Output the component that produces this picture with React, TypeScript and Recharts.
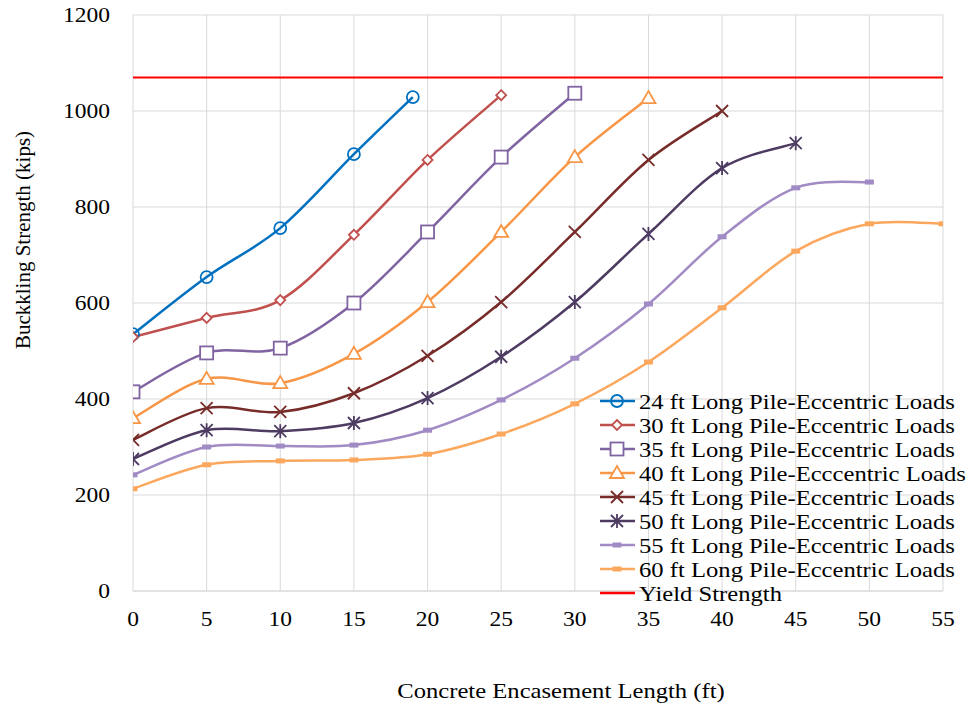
import React from 'react';
import { LineChart, Line, XAxis, YAxis, CartesianGrid } from 'recharts';

// ---------- DATA ----------
const xTicks = [0, 5, 10, 15, 20, 25, 30, 35, 40, 45, 50, 55];
const yTicks = [0, 200, 400, 600, 800, 1000, 1200];

const x24 = [0, 5, 10, 15, 19];
const y24 = [535, 654, 756, 910, 1029];
const x30 = [0, 5, 10, 15, 20, 25];
const y30 = [529, 569, 606, 742, 898, 1033];
const x35 = [0, 5, 10, 15, 20, 25, 30];
const y35 = [415, 496, 506, 600, 748, 904, 1037];
const x40 = [0, 5, 10, 15, 20, 25, 30, 35];
const y40 = [360, 442, 433, 494, 602, 748, 904, 1027];
const x45 = [0, 5, 10, 15, 20, 25, 30, 35, 40];
const y45 = [315, 381, 373, 412, 490, 602, 748, 898, 1000];
const x50 = [0, 5, 10, 15, 20, 25, 30, 35, 40, 45];
const y50 = [275, 335, 333, 350, 402, 488, 602, 744, 881, 933];
const x55 = [0, 5, 10, 15, 20, 25, 30, 35, 40, 45, 50];
const y55 = [242, 300, 302, 304, 335, 398, 485, 598, 738, 840, 852];
const x60 = [0, 5, 10, 15, 20, 25, 30, 35, 40, 45, 50, 55];
const y60 = [213, 263, 271, 273, 285, 327, 390, 477, 590, 708, 765, 765];
const xYield = [0, 55];
const yYield = [1070, 1070];

const seriesNames = [
  '24 ft Long Pile-Eccentric Loads',
  '30 ft Long Pile-Eccentric Loads',
  '35 ft Long Pile-Eccentric Loads',
  '40 ft Long Pile-Ecccentric Loads',
  '45 ft Long Pile-Eccentric Loads',
  '50 ft Long Pile-Eccentric Loads',
  '55 ft Long Pile-Eccentric Loads',
  '60 ft Long Pile-Eccentric Loads',
  'Yield Strength',
];

const zip = (xs: number[], ys: number[]) => xs.map((x, i) => ({ x, y: ys[i] }));

type Kind = 'circle' | 'diamond' | 'square' | 'triangle' | 'x' | 'star' | 'dash' | 'none';

const series: { name: string; data: { x: number; y: number }[]; color: string; kind: Kind }[] = [
  { name: seriesNames[0], data: zip(x24, y24), color: '#0070C0', kind: 'circle' },
  { name: seriesNames[1], data: zip(x30, y30), color: '#C0504D', kind: 'diamond' },
  { name: seriesNames[2], data: zip(x35, y35), color: '#8064A2', kind: 'square' },
  { name: seriesNames[3], data: zip(x40, y40), color: '#F79646', kind: 'triangle' },
  { name: seriesNames[4], data: zip(x45, y45), color: '#772C2A', kind: 'x' },
  { name: seriesNames[5], data: zip(x50, y50), color: '#4D3B62', kind: 'star' },
  { name: seriesNames[6], data: zip(x55, y55), color: '#A18BC4', kind: 'dash' },
  { name: seriesNames[7], data: zip(x60, y60), color: '#FBA85E', kind: 'dash' },
  { name: seriesNames[8], data: zip(xYield, yYield), color: '#FF0000', kind: 'none' },
];

// ---------- Excel-like smoothing curve ----------
const excelCurve: any = (context: any) => {
  let pts: number[][] = [];
  return {
    areaStart() {},
    areaEnd() {},
    lineStart() { pts = []; },
    point(x: number, y: number) { pts.push([+x, +y]); },
    lineEnd() {
      const n = pts.length;
      if (!n) return;
      context.moveTo(pts[0][0], pts[0][1]);
      for (let i = 0; i < n - 1; i++) {
        const p0 = pts[i - 1] || pts[i];
        const p1 = pts[i];
        const p2 = pts[i + 1];
        const p3 = pts[i + 2] || pts[i + 1];
        const c1x = p1[0] + (p2[0] - p0[0]) / 6;
        const c1y = p1[1] + (p2[1] - p0[1]) / 6;
        const c2x = p2[0] - (p3[0] - p1[0]) / 6;
        const c2y = p2[1] - (p3[1] - p1[1]) / 6;
        context.bezierCurveTo(c1x, c1y, c2x, c2y, p2[0], p2[1]);
      }
    },
  };
};

const FONT = '"Liberation Serif", "Times New Roman", serif';
const SX = 1.12;

function Marker({ cx, cy, kind, color }: { cx: number; cy: number; kind: Kind; color: string }) {
  const sw = 1.8;
  switch (kind) {
    case 'circle':
      return <circle cx={cx} cy={cy} r={6} fill="none" stroke={color} strokeWidth={sw} />;
    case 'diamond':
      return (
        <polygon
          points={`${cx},${cy - 5} ${cx + 5},${cy} ${cx},${cy + 5} ${cx - 5},${cy}`}
          fill="#fff"
          stroke={color}
          strokeWidth={sw}
        />
      );
    case 'square':
      return <rect x={cx - 6.5} y={cy - 6.5} width={13} height={13} fill="#fff" stroke={color} strokeWidth={sw} />;
    case 'triangle':
      return (
        <polygon
          points={`${cx},${cy - 7} ${cx + 7},${cy + 5} ${cx - 7},${cy + 5}`}
          fill="#fff"
          stroke={color}
          strokeWidth={sw}
        />
      );
    case 'x':
      return (
        <path
          d={`M${cx - 6},${cy - 6}L${cx + 6},${cy + 6}M${cx - 6},${cy + 6}L${cx + 6},${cy - 6}`}
          stroke={color}
          strokeWidth={sw}
        />
      );
    case 'star':
      return (
        <path
          d={`M${cx - 6},${cy - 6}L${cx + 6},${cy + 6}M${cx - 6},${cy + 6}L${cx + 6},${cy - 6}M${cx},${cy - 7}L${cx},${cy + 7}`}
          stroke={color}
          strokeWidth={sw}
        />
      );
    case 'dash':
      return <rect x={cx - 4.5} y={cy - 2.5} width={9} height={5} fill={color} stroke="none" />;
    default:
      return null;
  }
}

const YTick = (props: any) => {
  const { x, y, payload } = props;
  return (
    <g transform={`translate(${x},${y}) scale(${SX},1)`}>
      <text x={0} y={0} dy="0.35em" textAnchor="end" fontFamily={FONT} fontSize={21} fill="#000">
        {payload.value}
      </text>
    </g>
  );
};

const XTick = (props: any) => {
  const { x, y, payload } = props;
  return (
    <g transform={`translate(${x},${y}) scale(${SX},1)`}>
      <text x={0} y={0} dy="0.71em" textAnchor="middle" fontFamily={FONT} fontSize={21} fill="#000">
        {payload.value}
      </text>
    </g>
  );
};

const LegendBox = () => (
  <svg width={372} height={222} style={{ display: 'block' }}>
    {series.map((s, i) => {
      const cy = 12 + i * 24;
      return (
        <g key={s.name}>
          <line x1={3} y1={cy} x2={38} y2={cy} stroke={s.color} strokeWidth={2.5} />
          <Marker cx={20} cy={cy} kind={s.kind} color={s.color} />
          <g transform={`translate(42,${cy}) scale(${SX},1)`}>
            <text x={0} y={0} dy="0.35em" fontFamily={FONT} fontSize={22} fill="#000">
              {s.name}
            </text>
          </g>
        </g>
      );
    })}
  </svg>
);

export default function App() {
  return (
    <div style={{ position: 'absolute', left: 0, top: 0, width: 969, height: 708, background: '#fff' }}>
      <LineChart width={969} height={708} margin={{ top: 15, right: 26, bottom: 0, left: 0 }}>
        <CartesianGrid stroke="#D9D9D9" strokeWidth={1} />
        <XAxis
          type="number"
          dataKey="x"
          domain={[0, 55]}
          ticks={xTicks}
          allowDataOverflow
          axisLine={{ stroke: '#D9D9D9' }}
          tickLine={false}
          tickSize={0}
          tickMargin={20}
          height={117}
          tick={<XTick />}
          interval={0}
          label={{
            content: () => (
              <g transform={`translate(561,690) scale(${SX},1)`}>
                <text x={0} y={0} textAnchor="middle" dy="0.35em" fontFamily={FONT} fontSize={22} fill="#000">
                  Concrete Encasement Length (ft)
                </text>
              </g>
            ),
          }}
        />
        <YAxis
          type="number"
          domain={[0, 1200]}
          ticks={yTicks}
          width={133}
          axisLine={false}
          tickLine={false}
          tickSize={0}
          tickMargin={23}
          tick={<YTick />}
          interval={0}
          label={{
            content: () => (
              <text
                x={0}
                y={0}
                transform="translate(23,240) rotate(-90)"
                textAnchor="middle"
                dy="0.35em"
                fontFamily={FONT}
                fontSize={21}
                fill="#000"
              >
                Buckkling Strength (kips)
              </text>
            ),
          }}
        />
        {series.map((s) => (
          <Line
            key={s.name}
            name={s.name}
            data={s.data}
            dataKey="y"
            type={excelCurve}
            stroke={s.color}
            strokeWidth={s.kind === 'none' ? 2 : 2.5}
            isAnimationActive={false}
            dot={
              s.kind === 'none'
                ? false
                : (p: any) => <Marker key={`${s.name}-${p.index}`} cx={p.cx} cy={p.cy} kind={s.kind} color={s.color} />
            }
            activeDot={false}
          />
        ))}
      </LineChart>
      <div style={{ position: 'absolute', left: 597, top: 389 }}>
        <LegendBox />
      </div>
    </div>
  );
}
